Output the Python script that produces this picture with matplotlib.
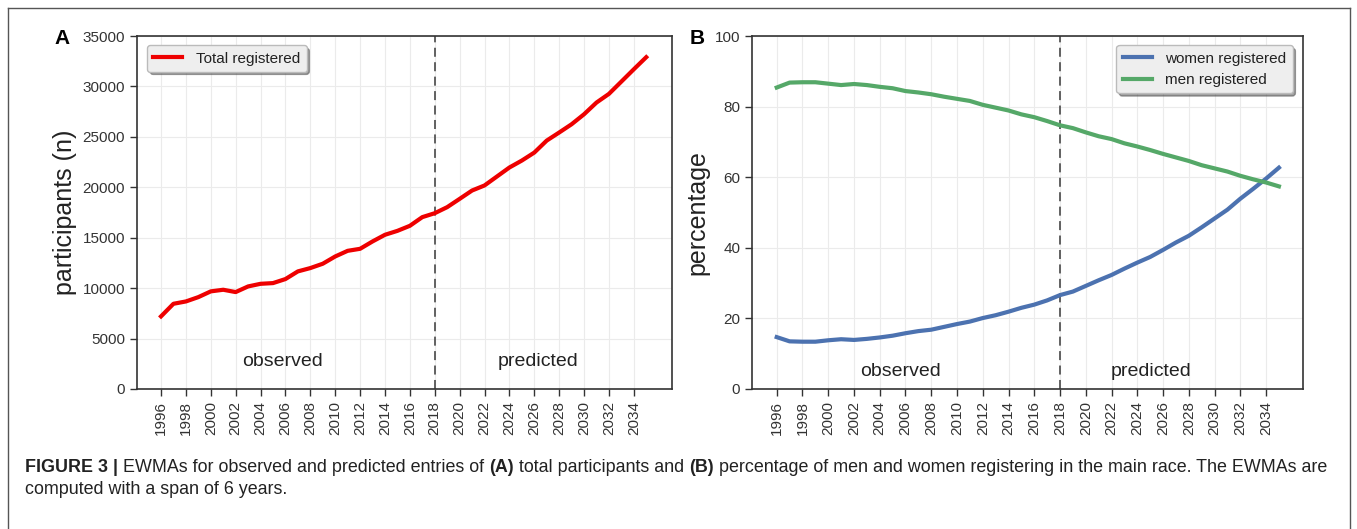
import matplotlib
matplotlib.use("Agg")
import matplotlib.pyplot as plt
from matplotlib.lines import Line2D

plt.rcParams['font.family'] = ['Liberation Sans', 'DejaVu Sans']

years = list(range(1996, 2036))
total_registered = [7200, 8450, 8680, 9110, 9680, 9840, 9610, 10170, 10430, 10500,
                    10900, 11660, 11990, 12420, 13140, 13700, 13900, 14630, 15290, 15680,
                    16180, 17040, 17430, 18030, 18850, 19680, 20180, 21070, 21960, 22650,
                    23440, 24630, 25430, 26250, 27240, 28400, 29260, 30480, 31700, 32900]
women_pct = [14.7, 13.5, 13.4, 13.4, 13.8, 14.1, 13.9, 14.2, 14.6, 15.1,
             15.8, 16.4, 16.8, 17.6, 18.4, 19.1, 20.1, 20.9, 21.9, 23.0,
             23.9, 25.1, 26.6, 27.6, 29.2, 30.8, 32.3, 34.1, 35.8, 37.4,
             39.4, 41.5, 43.4, 45.8, 48.3, 50.8, 53.9, 56.7, 59.6, 62.7]
men_pct = [85.4, 86.8, 86.9, 86.9, 86.5, 86.1, 86.4, 86.1, 85.6, 85.2,
           84.4, 84.0, 83.5, 82.8, 82.2, 81.6, 80.5, 79.7, 78.9, 77.8,
           77.0, 75.9, 74.7, 73.9, 72.7, 71.6, 70.8, 69.6, 68.7, 67.7,
           66.6, 65.6, 64.6, 63.4, 62.5, 61.6, 60.4, 59.4, 58.5, 57.4]
xticks = list(range(1996, 2035, 2))
split_year = 2018

W, H = 1357, 529
fig = plt.figure(figsize=(W / 100, H / 100), dpi=100)

def ax_rect(l, r, t, b):
    return [l / W, 1 - b / H, (r - l) / W, (b - t) / H]

axA = fig.add_axes(ax_rect(137, 672, 36, 389))
axB = fig.add_axes(ax_rect(752, 1303, 36, 389))

def style(ax):
    ax.set_facecolor('white')
    ax.grid(True, color='#ebebeb', linewidth=0.8)
    ax.set_axisbelow(True)
    for s in ax.spines.values():
        s.set_color('#333333')
        s.set_linewidth(1.2)
    ax.tick_params(axis='both', direction='out', length=5, width=1, color='#333333',
                   labelcolor='#333333', labelsize=11, top=False, right=False)
    ax.set_xticks(xticks)
    ax.set_xticklabels([str(y) for y in xticks], rotation=90)

leg_kw = dict(fontsize=11, frameon=True, shadow=True, fancybox=True,
              facecolor='#eeeeee', edgecolor='#bbbbbb', framealpha=1,
              handlelength=1.9, handletextpad=0.9, borderpad=0.4)

style(axA)
axA.plot(years, total_registered, color='#ee0000', lw=3, label='Total registered', zorder=3)
axA.axvline(split_year, color='#555555', ls='--', lw=1.3, dashes=(5, 3))
axA.set_xlim(1994.07, 2037.07)
axA.set_ylim(0, 35000)
axA.set_yticks(range(0, 35001, 5000))
axA.set_ylabel('participants (n)', fontsize=18, color='#222222', labelpad=4)
axA.text(2005.8, 2700, 'observed', fontsize=14, ha='center', va='center', color='#222222')
axA.text(2026.3, 2700, 'predicted', fontsize=14, ha='center', va='center', color='#222222')
legA = axA.legend(loc='upper left', bbox_to_anchor=(0.005, 0.995), **leg_kw)
for t in legA.get_texts():
    t.set_color('#222222')

style(axB)
axB.plot(years, women_pct, color='#4c72b0', lw=3, label='women registered', zorder=3)
axB.plot(years, men_pct, color='#55a868', lw=3, label='men registered', zorder=3)
axB.axvline(split_year, color='#555555', ls='--', lw=1.3, dashes=(5, 3))
axB.set_xlim(1994.08, 2036.87)
axB.set_ylim(0, 100)
axB.set_yticks(range(0, 101, 20))
axB.set_ylabel('percentage', fontsize=18, color='#222222', labelpad=4)
axB.text(2005.65, 5, 'observed', fontsize=14, ha='center', va='center', color='#222222')
axB.text(2025.1, 5, 'predicted', fontsize=14, ha='center', va='center', color='#222222')
legB = axB.legend(loc='upper right', bbox_to_anchor=(0.995, 0.995), **leg_kw)
for t in legB.get_texts():
    t.set_color('#222222')

fig.text(62 / W, 1 - 38 / H, 'A', fontsize=15, fontweight='bold', ha='center', va='center')
fig.text(697 / W, 1 - 38 / H, 'B', fontsize=15, fontweight='bold', ha='center', va='center')

# outer border (top, left, right)
bc = '#555555'
fig.add_artist(Line2D([8 / W, 8 / W], [0, 1 - 8 / H], transform=fig.transFigure, color=bc, lw=1))
fig.add_artist(Line2D([8 / W, 1350 / W], [1 - 8 / H, 1 - 8 / H], transform=fig.transFigure, color=bc, lw=1))
fig.add_artist(Line2D([1350 / W, 1350 / W], [0, 1 - 8 / H], transform=fig.transFigure, color=bc, lw=1))

# caption with mixed weights
line1 = [("FIGURE 3 | ", 'bold'), ("EWMAs for observed and predicted entries of ", 'normal'),
         ("(A)", 'bold'), (" total participants and ", 'normal'), ("(B)", 'bold'),
         (" percentage of men and women registering in the main race. The EWMAs are", 'normal')]
line2 = [("computed with a span of 6 years.", 'normal')]
renderer = fig.canvas.get_renderer()
cap_fs = 12.9
def draw_line(parts, x0, yc):
    x = x0
    for s, w in parts:
        t = fig.text(x / W, 1 - yc / H, s, fontsize=cap_fs, fontweight=w, ha='left', va='center',
                     color='#222222')
        bb = t.get_window_extent(renderer=renderer)
        x += bb.width
draw_line(line1, 25, 467)
draw_line(line2, 25, 490)

fig.savefig('out.png', dpi=100)
